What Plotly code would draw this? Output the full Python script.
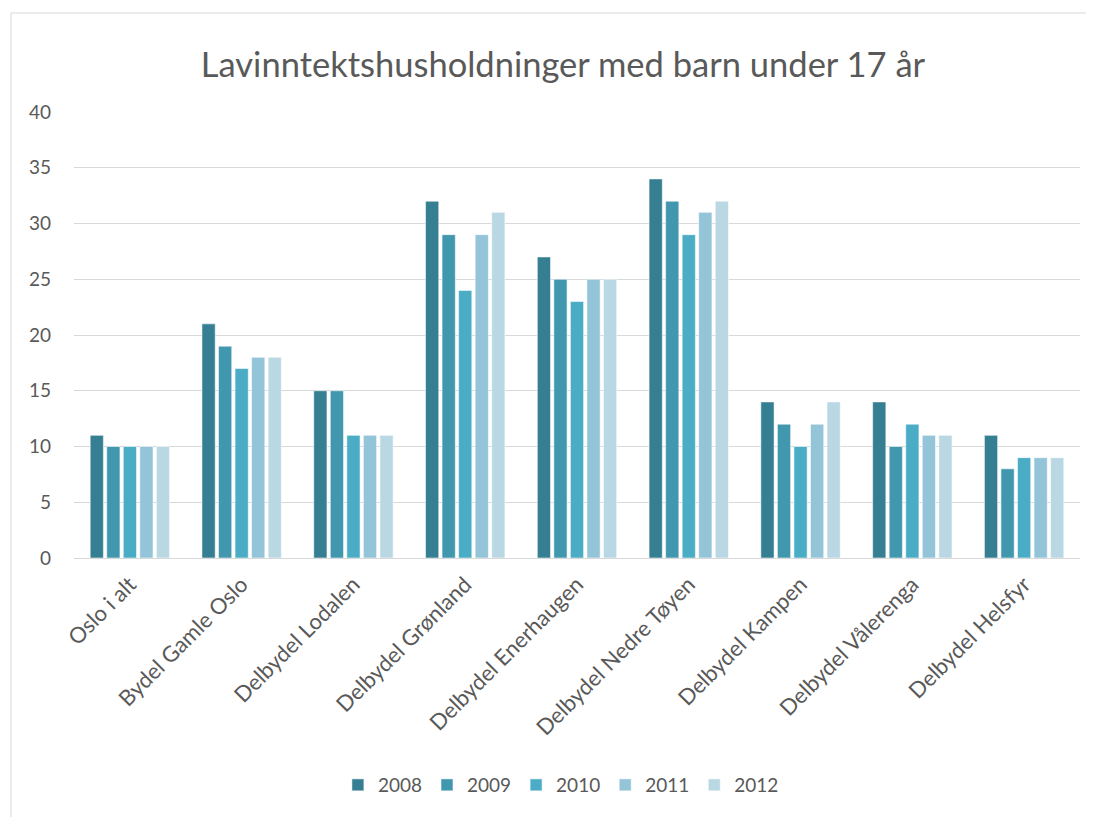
import plotly.graph_objects as go

categories = [
    "Oslo i alt",
    "Bydel Gamle Oslo",
    "Delbydel Lodalen",
    "Delbydel Grønland",
    "Delbydel Enerhaugen",
    "Delbydel Nedre Tøyen",
    "Delbydel Kampen",
    "Delbydel Vålerenga",
    "Delbydel Helsfyr",
]
years = ["2008", "2009", "2010", "2011", "2012"]
values_2008 = [11, 21, 15, 32, 27, 34, 14, 14, 11]
values_2009 = [10, 19, 15, 29, 25, 32, 12, 10, 8]
values_2010 = [10, 17, 11, 24, 23, 29, 10, 12, 9]
values_2011 = [10, 18, 11, 29, 25, 31, 12, 11, 9]
values_2012 = [10, 18, 11, 31, 25, 32, 14, 11, 9]
series = [values_2008, values_2009, values_2010, values_2011, values_2012]
colors = ["#367f93", "#4197ae", "#4bacc6", "#93c4d7", "#b9d8e4"]

FONT = "Lato, 'Open Sans', sans-serif"
TEXT_COLOR = "#595959"
FRAME = dict(color="#d9d9d9", width=1)

fig = go.Figure()
for year, vals, col in zip(years, series, colors):
    fig.add_trace(
        go.Bar(
            x=categories,
            y=vals,
            name=year,
            marker=dict(color=col, line=dict(color="rgba(255,255,255,0.55)", width=1)),
        )
    )

# page body adds an 8px offset, so the figure is 8px smaller and shifted
# plot area in figure px: x 66..1072, y 104..550
# chart frame: only top and left edges are inside the picture
fig.add_shape(type="line", xref="paper", yref="paper",
              x0=-0.0626, x1=1.2, y0=1.222, y1=1.222, line=FRAME, layer="below")
fig.add_shape(type="line", xref="paper", yref="paper",
              x0=-0.0626, x1=-0.0626, y0=-0.7, y1=1.222, line=FRAME, layer="below")

fig.update_layout(
    width=1086,
    height=809,
    margin=dict(l=66, r=14, t=104, b=259),
    paper_bgcolor="white",
    plot_bgcolor="white",
    font=dict(family=FONT, color=TEXT_COLOR, size=19),
    title=dict(
        text="Lavinntektshusholdninger med barn under 17 år",
        x=0.511,
        xanchor="center",
        y=0.93,
        yanchor="middle",
        font=dict(size=34.5, color=TEXT_COLOR, family=FONT),
    ),
    barmode="group",
    bargap=0.26,
    bargroupgap=0.2,
    xaxis=dict(
        tickangle=-45,
        tickfont=dict(size=22, color=TEXT_COLOR),
        showgrid=False,
        showline=True,
        linecolor="#d9d9d9",
        linewidth=1,
        ticks="",
        ticklabelstandoff=4,
        automargin=False,
    ),
    yaxis=dict(
        range=[0, 40],
        dtick=5,
        showgrid=True,
        gridcolor="#d9d9d9",
        gridwidth=1,
        zeroline=False,
        showline=False,
        tickfont=dict(size=19, color=TEXT_COLOR),
        ticklabelstandoff=22,
        automargin=False,
    ),
    legend=dict(
        orientation="h",
        x=0.484,
        xanchor="center",
        y=-0.509,
        yanchor="middle",
        font=dict(size=19, color=TEXT_COLOR),
        itemwidth=30,
        traceorder="normal",
    ),
)

fig.write_html("out.html")
